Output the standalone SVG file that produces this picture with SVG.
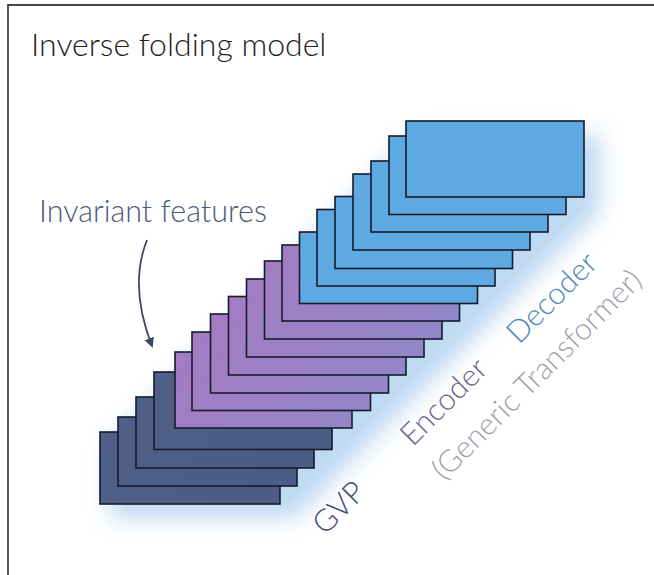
<svg xmlns="http://www.w3.org/2000/svg" width="654" height="575" viewBox="0 0 654 575">
<style>
.lbl{font-family:Lato,"Noto Sans","DejaVu Sans",sans-serif;font-size:30.5px;font-weight:300}
.blk{stroke:#161b2c;stroke-width:1.6}
.gvp{fill:url(#gDark)}
.enc{fill:url(#gPurp)}
.dec{fill:#5ea9e1}
</style>
<defs>
<linearGradient id="gDark" gradientUnits="userSpaceOnUse" x1="100" y1="380" x2="330" y2="500">
<stop offset="0" stop-color="#4f6189"/><stop offset="1" stop-color="#4a5c84"/>
</linearGradient>
<linearGradient id="gPurp" gradientUnits="userSpaceOnUse" x1="180" y1="260" x2="460" y2="420">
<stop offset="0" stop-color="#a779c1"/><stop offset="1" stop-color="#8c8ac9"/>
</linearGradient>
<filter id="blur" x="-30%" y="-30%" width="160%" height="160%"><feGaussianBlur stdDeviation="11"/></filter>
<marker id="ah" viewBox="0 0 10 10" refX="8" refY="5" markerWidth="10" markerHeight="10" markerUnits="userSpaceOnUse" orient="auto">
<path d="M0,0 L10,5 L0,10 z" fill="#3d4868"/>
</marker>
</defs>
<rect width="654" height="575" fill="#fff"/>
<path d="M8,575 V5 H654" fill="none" stroke="#444" stroke-width="1.8"/>
<text class="lbl" x="31" y="56" fill="#1e1e1e" style="font-size:32px">Inverse folding model</text>
<text class="lbl" x="39" y="222" fill="#4c5a7a" style="font-size:30.5px">Invariant features</text>
<polygon points="110,445 416,134 600,134 600,212 296,518 110,518" fill="#a9cdee" opacity="0.75" filter="url(#blur)"/>
<g id="connectors">
<path d="M147,240 Q128.6,286 152,346" fill="none" stroke="#3d4868" stroke-width="1.8" marker-end="url(#ah)"/>
</g>
<g id="gvp">
<rect class="blk gvp" x="100" y="432" width="180" height="72"/>
<rect class="blk gvp" x="118" y="417" width="179" height="69"/>
<rect class="blk gvp" x="136" y="397" width="178" height="71"/>
<rect class="blk gvp" x="154" y="372" width="178" height="77.5"/>
</g>
<g id="encoder">
<rect class="blk enc" x="175" y="352" width="177" height="76"/>
<rect class="blk enc" x="192" y="332" width="178.5" height="78.5"/>
<rect class="blk enc" x="210.5" y="314" width="178" height="79"/>
<rect class="blk enc" x="228.5" y="296.5" width="177.5" height="78.5"/>
<rect class="blk enc" x="246.5" y="279" width="177.5" height="78"/>
<rect class="blk enc" x="264.5" y="261" width="177.5" height="78"/>
<rect class="blk enc" x="282" y="245" width="177.5" height="76"/>
</g>
<g id="decoder">
<rect class="blk dec" x="299.5" y="232" width="178" height="71.5"/>
<rect class="blk dec" x="317" y="209.5" width="178" height="76.5"/>
<rect class="blk dec" x="335" y="196.5" width="177.5" height="72"/>
<rect class="blk dec" x="353" y="174" width="177" height="76"/>
<rect class="blk dec" x="371" y="161" width="177" height="71"/>
<rect class="blk dec" x="389" y="136" width="177" height="78.5"/>
<rect class="blk dec" x="406" y="121" width="178" height="76"/>
</g>
<g id="labels">
<text class="lbl" transform="translate(346,515) rotate(-45)" text-anchor="middle" fill="#3d4a6e">GVP</text>
<text class="lbl" transform="translate(451,409) rotate(-45)" text-anchor="middle" fill="#6d5f8f">Encoder</text>
<text class="lbl" transform="translate(544,382) rotate(-45)" text-anchor="middle" fill="#a09fab">(Generic Transformer)</text>
<text class="lbl" transform="translate(559,305) rotate(-45)" text-anchor="middle" fill="#4b86bd">Decoder</text>
</g>
</svg>
